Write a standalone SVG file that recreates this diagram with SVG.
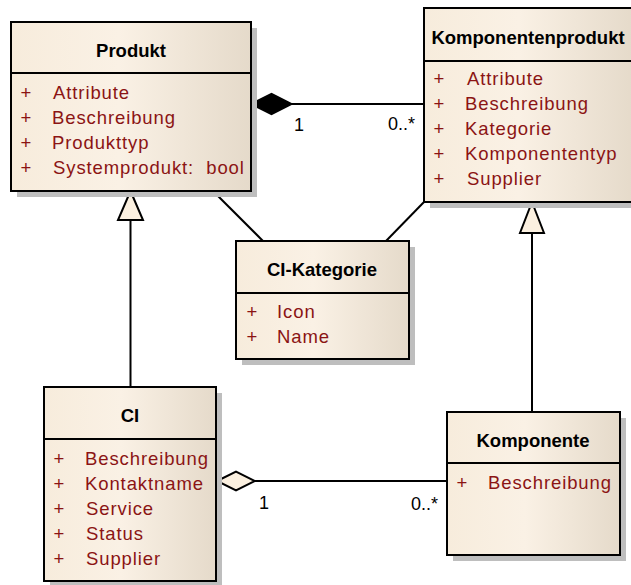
<svg xmlns="http://www.w3.org/2000/svg" width="631" height="585" viewBox="0 0 631 585">
  <defs>
    <linearGradient id="classFill" x1="0" y1="0" x2="1" y2="0">
      <stop offset="0" stop-color="#F7ECDC"/>
      <stop offset="0.45" stop-color="#FAF1E5"/>
      <stop offset="1" stop-color="#E5DACA"/>
    </linearGradient>
    <style>
      .shadow { fill: #BEBEBE; }
      .box { fill: url(#classFill); stroke: #000; stroke-width: 2; }
      .sep { stroke: #000; stroke-width: 2; }
      .title { font-family: "Liberation Sans", Arial, sans-serif; font-size: 18.5px; font-weight: bold; fill: #000; text-anchor: middle; }
      .attr { font-family: "Liberation Sans", Arial, sans-serif; font-size: 18.5px; letter-spacing: 0.9px; fill: #8B1414; }
      .vis { font-family: "Liberation Sans", Arial, sans-serif; font-size: 18.5px; fill: #8B1414; text-anchor: middle; }
      .mult { font-family: "Liberation Sans", Arial, sans-serif; font-size: 18px; fill: #000; }
      .line { stroke: #000; stroke-width: 2; fill: none; }
      .hollow { fill: #FBF0E0; stroke: #000; stroke-width: 2; }
      .filled { fill: #000; stroke: #000; stroke-width: 1.5; }
    </style>
  </defs>

  <rect width="631" height="585" fill="#FFFFFF"/>

  <!-- Connectors -->
  <g id="connectors">
    <!-- Produkt composition Komponentenprodukt -->
    <line class="line" x1="292" y1="104" x2="424" y2="104"/>
    <polygon class="filled" points="251,104 271.5,93.5 292,104 271.5,114.5"/>
    <text class="mult" x="294" y="131">1</text>
    <text class="mult" x="388" y="130">0..*</text>

    <!-- CI generalizes Produkt -->
    <line class="line" x1="130.5" y1="220" x2="130.5" y2="387"/>
    <polygon class="hollow" points="130.5,191 143,220 118,220"/>

    <!-- Komponente generalizes Komponentenprodukt -->
    <line class="line" x1="532" y1="233" x2="532" y2="412"/>
    <polygon class="hollow" points="532,202 544,233 520,233"/>

    <!-- CI-Kategorie associations -->
    <line class="line" x1="213" y1="191" x2="263" y2="241"/>
    <line class="line" x1="424" y1="202" x2="386" y2="241"/>

    <!-- CI aggregation Komponente -->
    <line class="line" x1="255" y1="481" x2="447" y2="481"/>
    <polygon class="hollow" points="217,481 236,471.5 255,481 236,490.5"/>
    <text class="mult" x="259" y="509">1</text>
    <text class="mult" x="411" y="510">0..*</text>
  </g>

  <!-- Produkt -->
  <g id="produkt">
    <rect class="shadow" x="17" y="28" width="240" height="169"/>
    <rect class="box" x="11" y="22" width="240" height="169"/>
    <line class="sep" x1="11" y1="73" x2="251" y2="73"/>
    <text class="title" x="131" y="57">Produkt</text>
    <text class="vis" x="26" y="99">+</text><text class="attr" x="53" y="99">Attribute</text>
    <text class="vis" x="26" y="124">+</text><text class="attr" x="52" y="124">Beschreibung</text>
    <text class="vis" x="26" y="149">+</text><text class="attr" x="52" y="149">Produkttyp</text>
    <text class="vis" x="26" y="174">+</text><text class="attr" x="53" y="174">Systemprodukt:&#160; bool</text>
  </g>

  <!-- Komponentenprodukt -->
  <g id="komponentenprodukt">
    <rect class="shadow" x="430" y="14" width="210" height="194"/>
    <rect class="box" x="424" y="8" width="210" height="194"/>
    <line class="sep" x1="424" y1="61" x2="634" y2="61"/>
    <text class="title" x="528" y="44">Komponentenprodukt</text>
    <text class="vis" x="439" y="85">+</text><text class="attr" x="467" y="85">Attribute</text>
    <text class="vis" x="439" y="110">+</text><text class="attr" x="465" y="110">Beschreibung</text>
    <text class="vis" x="439" y="135">+</text><text class="attr" x="465" y="135">Kategorie</text>
    <text class="vis" x="439" y="160">+</text><text class="attr" x="465" y="160">Komponententyp</text>
    <text class="vis" x="439" y="185">+</text><text class="attr" x="467" y="185">Supplier</text>
  </g>

  <!-- CI-Kategorie -->
  <g id="ci-kategorie">
    <rect class="shadow" x="242" y="247" width="173" height="118"/>
    <rect class="box" x="236" y="241" width="173" height="118"/>
    <line class="sep" x1="236" y1="293" x2="409" y2="293"/>
    <text class="title" x="322" y="276">CI-Kategorie</text>
    <text class="vis" x="252" y="318">+</text><text class="attr" x="277" y="318">Icon</text>
    <text class="vis" x="252" y="343">+</text><text class="attr" x="277" y="343">Name</text>
  </g>

  <!-- CI -->
  <g id="ci">
    <rect class="shadow" x="50" y="393" width="172" height="194"/>
    <rect class="box" x="44" y="387" width="172" height="194"/>
    <line class="sep" x1="44" y1="439" x2="216" y2="439"/>
    <text class="title" x="130" y="422">CI</text>
    <text class="vis" x="59" y="465">+</text><text class="attr" x="85" y="465">Beschreibung</text>
    <text class="vis" x="59" y="490">+</text><text class="attr" x="85" y="490">Kontaktname</text>
    <text class="vis" x="59" y="515">+</text><text class="attr" x="86" y="515">Service</text>
    <text class="vis" x="59" y="540">+</text><text class="attr" x="86" y="540">Status</text>
    <text class="vis" x="59" y="565">+</text><text class="attr" x="86" y="565">Supplier</text>
  </g>

  <!-- Komponente -->
  <g id="komponente">
    <rect class="shadow" x="453" y="418" width="173" height="143"/>
    <rect class="box" x="447" y="412" width="173" height="143"/>
    <line class="sep" x1="447" y1="463" x2="620" y2="463"/>
    <text class="title" x="533" y="447">Komponente</text>
    <text class="vis" x="462" y="489">+</text><text class="attr" x="488" y="489">Beschreibung</text>
  </g>
</svg>
